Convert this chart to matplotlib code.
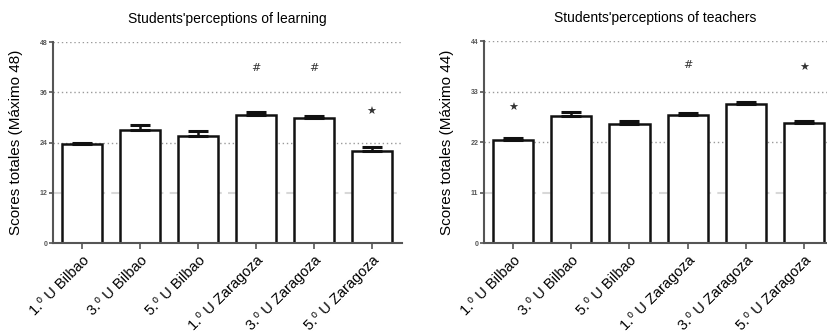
import numpy as np
import matplotlib
matplotlib.use("Agg")
import matplotlib.pyplot as plt

plt.rcParams['font.family'] = ['Liberation Sans', 'DejaVu Sans']

# --- Datos ---
grupos = ["1.⁰ U Bilbao", "3.⁰ U Bilbao", "5.⁰ U Bilbao",
          "1.⁰ U Zaragoza", "3.⁰ U Zaragoza", "5.⁰ U Zaragoza"]

aprendizaje = [23.6, 27.0, 25.6, 30.6, 29.8, 22.1]
aprendizaje_err = [0.35, 1.3, 1.2, 0.7, 0.6, 0.9]
aprendizaje_sig = ["", "", "", "#", "#", "★"]
aprendizaje_sig_y = [None, None, None, 41.8, 41.8, 31.3]

profesores = [22.5, 27.6, 25.9, 28.0, 30.3, 26.1]
profesores_err = [0.4, 1.0, 0.6, 0.35, 0.5, 0.4]
profesores_sig = ["★", "", "", "#", "", "★"]
profesores_sig_y = [29.4, None, None, 38.8, None, 38.1]

paneles = [
    dict(titulo="Students'perceptions of learning", ymax=48,
         ylabel="Scores totales (Máximo 48)", ticks=[0, 12, 24, 36, 48],
         valores=aprendizaje, err=aprendizaje_err,
         sig=aprendizaje_sig, sig_y=aprendizaje_sig_y,
         rect=[0.064, 0.268, 0.422, 0.605], xlim=(-0.5, 5.52)),
    dict(titulo="Students'perceptions of teachers", ymax=44,
         ylabel="Scores totales (Máximo 44)", ticks=[0, 11, 22, 33, 44],
         valores=profesores, err=profesores_err,
         sig=profesores_sig, sig_y=profesores_sig_y,
         rect=[0.585, 0.268, 0.415, 0.608], xlim=(-0.5, 5.39)),
]

fig = plt.figure(figsize=(8.27, 3.32), dpi=100)

for p in paneles:
    ax = fig.add_axes(p["rect"])
    x = np.arange(len(grupos))
    ax.set_xlim(*p["xlim"])
    ax.set_ylim(0, p["ymax"])

    # lineas guia punteadas
    for t in p["ticks"][2:]:
        ax.axhline(t, color="#9a9a9a", lw=1.0, ls=(0, (1, 2)), zorder=0)
    ax.axhline(p["ticks"][1], color="#d8d8d8", lw=1.5, ls=(0, (4, 3)), zorder=0)

    ax.bar(x, p["valores"], width=0.69, color="white", edgecolor="#111111",
           linewidth=1.8, zorder=2)
    ax.errorbar(x, p["valores"], yerr=[np.zeros(len(x)), p["err"]], fmt="none",
                ecolor="#111111", elinewidth=1.8, capsize=7, capthick=2.2, zorder=3)

    for xi, s, sy in zip(x, p["sig"], p["sig_y"]):
        if s:
            ax.text(xi, sy, s, ha="center", va="center", fontsize=8,
                    color="#333333", family=["DejaVu Sans"], zorder=4)

    ax.spines["top"].set_visible(False)
    ax.spines["right"].set_visible(False)
    for lado in ("left", "bottom"):
        ax.spines[lado].set_color("#555555")
        ax.spines[lado].set_linewidth(1.5)

    ax.set_yticks(p["ticks"])
    ax.set_yticklabels([str(t) for t in p["ticks"]], fontsize=5, color="#555555",
                       fontweight="bold")
    ax.tick_params(axis="y", length=3, width=1.2, color="#555555", pad=1)
    ax.set_xticks(x)
    ax.set_xticklabels(grupos, rotation=45, ha="right", rotation_mode="anchor",
                       fontsize=10.5)
    ax.tick_params(axis="x", length=4, width=1.2, color="#555555", pad=3)

    ax.set_ylabel(p["ylabel"], fontsize=11, labelpad=12)
    ax.set_title(p["titulo"], fontsize=10, pad=14)

fig.savefig("out.png", dpi=100)
